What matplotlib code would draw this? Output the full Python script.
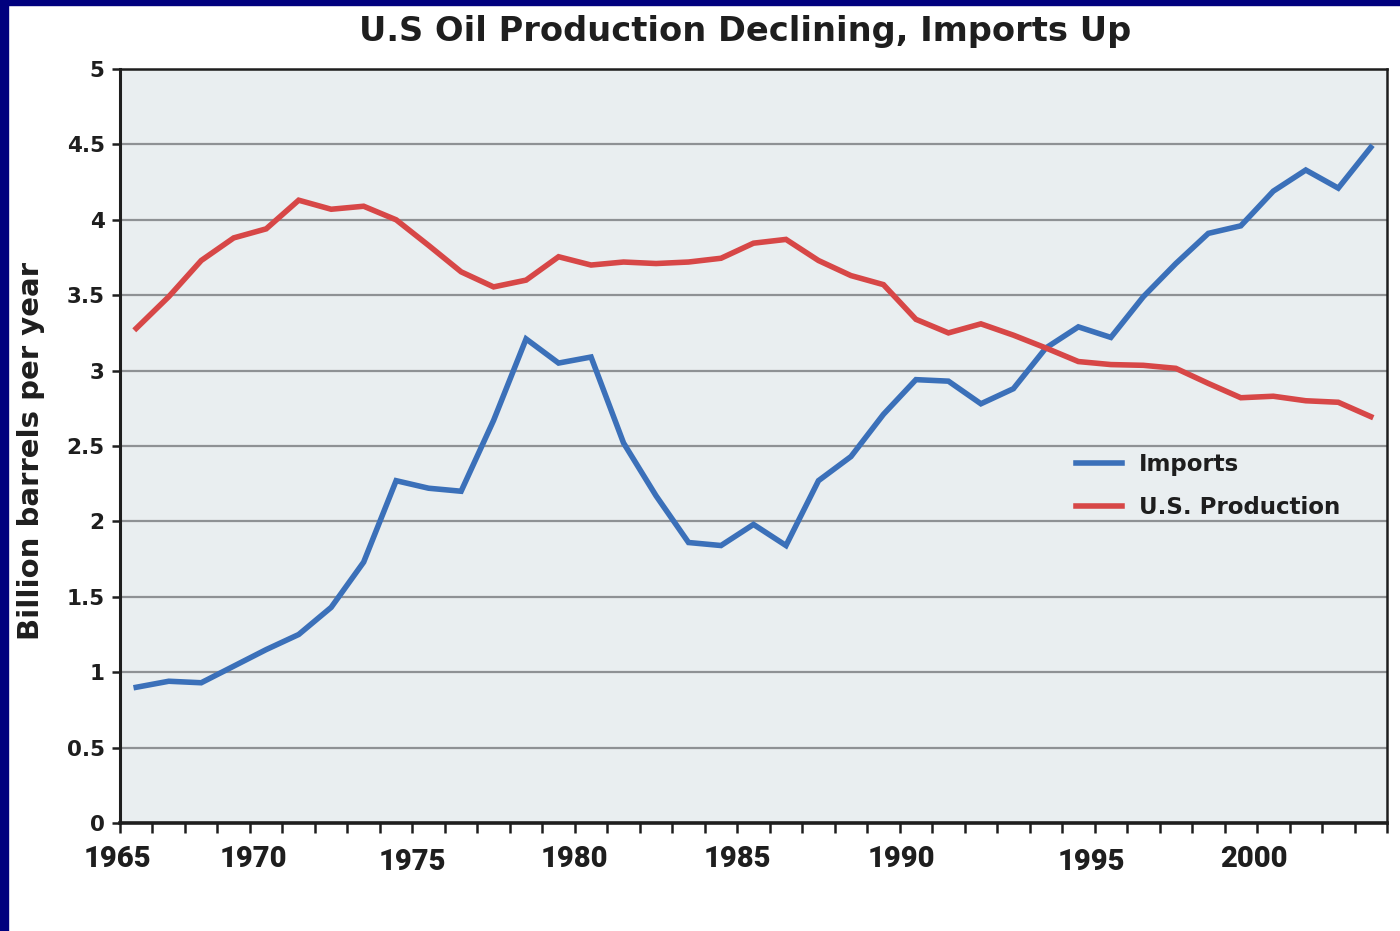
import matplotlib
matplotlib.use("Agg")
import matplotlib.pyplot as plt
import matplotlib.transforms as mtransforms
from matplotlib.patches import Rectangle
import numpy as np

# ---- data ----
years = list(range(1965, 2004))
imports = [0.90, 0.94, 0.93, 1.04, 1.15, 1.25, 1.43, 1.73, 2.27, 2.22,
           2.20, 2.67, 3.21, 3.05, 3.09, 2.52, 2.17, 1.86, 1.84, 1.98,
           1.84, 2.27, 2.43, 2.71, 2.94, 2.93, 2.78, 2.88, 3.15, 3.29,
           3.22, 3.49, 3.71, 3.91, 3.96, 4.19, 4.33, 4.21, 4.48]
production = [3.28, 3.49, 3.73, 3.88, 3.94, 4.13, 4.07, 4.09, 4.00, 3.83,
              3.655, 3.555, 3.60, 3.755, 3.70, 3.72, 3.71, 3.72, 3.745, 3.845,
              3.87, 3.73, 3.63, 3.57, 3.34, 3.25, 3.31, 3.235, 3.15, 3.06,
              3.04, 3.035, 3.015, 2.915, 2.82, 2.83, 2.80, 2.79, 2.695]
year_labels = [1965, 1970, 1975, 1980, 1985, 1990, 1995, 2000]
y_ticks = [0, 0.5, 1, 1.5, 2, 2.5, 3, 3.5, 4, 4.5, 5]
y_tick_labels = ["0", "0.5", "1", "1.5", "2", "2.5", "3", "3.5", "4", "4.5", "5"]
series_names = ["Imports", "U.S. Production"]
title = "U.S Oil Production Declining, Imports Up"
ylabel = "Billion barrels per year"

# ---- layout (label placement as in the original artwork) ----
label_shift = [-0.59, -1.4, -1.5, -1.5, -1.5, -1.45, -0.6, -0.6]
label_drop = [0, 0, 3, 0, 0, 0, 3, 0]

BLUE = "#3b70b9"
RED = "#d74747"
NAVY = "#00007e"
BG = "#e9eef0"
GRID = "#8e9194"
DARK = "#1e1e1e"

fig = plt.figure(figsize=(14, 9.31), dpi=100)
fig.patch.set_facecolor("white")
fig.patches.append(Rectangle((0, 0), 8 / 1400, 1, transform=fig.transFigure,
                             color=NAVY, zorder=0))
fig.patches.append(Rectangle((0, 1 - 5 / 931), 1, 5 / 931, transform=fig.transFigure,
                             color=NAVY, zorder=0))

ax = fig.add_axes([120 / 1400, (931 - 823) / 931, (1387 - 120) / 1400, (823 - 69) / 931])
ax.set_facecolor(BG)

ax.plot(years, imports, color=BLUE, lw=4.0, solid_joinstyle="miter", label=series_names[0], zorder=3)
ax.plot(years, production, color=RED, lw=4.0, solid_joinstyle="miter", label=series_names[1], zorder=3)

ax.set_xlim(years[0] - 0.5, years[-1] + 0.5)
ax.set_ylim(0, 5)

ax.set_yticks(y_ticks)
ax.set_yticklabels(y_tick_labels, fontsize=15.5, fontweight="bold", color=DARK, family="DejaVu Sans")
ax.yaxis.grid(True, color=GRID, lw=1.6)
ax.set_axisbelow(True)
ax.tick_params(axis="y", length=6, width=1.8, color=DARK, pad=5)

ax.set_xticks(np.arange(years[0] - 0.5, years[-1] + 1.0, 1.0))
ax.set_xticklabels([])
ax.tick_params(axis="x", length=7, width=1.8, color=DARK)

trans = mtransforms.blended_transform_factory(ax.transData, ax.transAxes)
for yr, sh, dr in zip(year_labels, label_shift, label_drop):
    ax.text(yr + sh, -0.0475 - dr / 754, str(yr), transform=trans, ha="center", va="center",
            fontsize=21, fontweight=900, color=DARK,
            family=["Roboto", "DejaVu Sans"])

for s in ax.spines.values():
    s.set_color(DARK)
    s.set_linewidth(1.8)
ax.spines["left"].set_linewidth(2.2)
ax.spines["bottom"].set_linewidth(2.6)

leg = ax.legend(loc="upper left", bbox_to_anchor=(0.738, 0.518), frameon=False,
                handlelength=2.0, handletextpad=0.75, labelspacing=0.85,
                prop={"family": "DejaVu Sans", "weight": "bold", "size": 16.5})
for t in leg.get_texts():
    t.set_color(DARK)

fig.text(745 / 1400, 1 - 31 / 931, title, ha="center", va="center",
         fontsize=24.2, fontweight="bold", color=DARK, family="DejaVu Sans")
fig.text(31 / 1400, 1 - 451 / 931, ylabel, rotation=90, ha="center", va="center",
         fontsize=21, fontweight="bold", color=DARK, family="DejaVu Sans")

fig.savefig("out.png", dpi=100, facecolor=fig.get_facecolor())
